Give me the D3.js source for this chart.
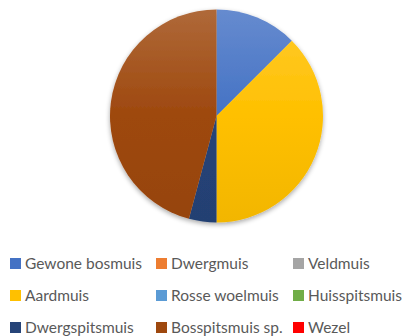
<!DOCTYPE html>
<html>
<head>
<meta charset="utf-8">
<script src="https://cdn.jsdelivr.net/npm/d3@7"></script>
<style>
  html, body { margin: 0; padding: 0; background: #fff; }
  svg { display: block; }
</style>
</head>
<body>
<svg id="chart" width="406" height="336"></svg>
<script>
// Soorten en aantallen
const categories = ["Gewone bosmuis", "Dwergmuis", "Veldmuis", "Aardmuis", "Rosse woelmuis",
                    "Huisspitsmuis", "Dwergspitsmuis", "Bosspitsmuis sp.", "Wezel"];
const counts = [3, 0, 0, 9, 0, 0, 1, 11, 0];
const colors = ["#4472C4", "#ED7D31", "#A5A5A5", "#FFC000", "#5B9BD5",
                "#70AD47", "#264478", "#9E480E", "#FF0000"];

const cx = 216.5, cy = 116, R = 106.5;

const svg = d3.select("#chart");
const defs = svg.append("defs");

// Soft drop shadow beneath the pie
const shadow = defs.append("filter").attr("id", "shadow")
  .attr("x", "-20%").attr("y", "-20%").attr("width", "140%").attr("height", "140%");
shadow.append("feGaussianBlur").attr("in", "SourceAlpha").attr("stdDeviation", 2.5);
shadow.append("feOffset").attr("dx", 0).attr("dy", 1.5).attr("result", "b");
shadow.append("feComponentTransfer").append("feFuncA").attr("type", "linear").attr("slope", 0.35);
const merge = shadow.append("feMerge");
merge.append("feMergeNode");
merge.append("feMergeNode").attr("in", "SourceGraphic");

// Vertical gradient per colour (in the pie group's coordinates):
// lighter at the top, full colour towards the bottom
colors.forEach((c, i) => {
  const g = defs.append("linearGradient").attr("id", "grad" + i)
    .attr("gradientUnits", "userSpaceOnUse")
    .attr("x1", 0).attr("y1", -R).attr("x2", 0).attr("y2", R);
  const base = d3.color(c);
  g.append("stop").attr("offset", "0%").attr("stop-color", d3.interpolateRgb(c, "#fff")(0.18));
  g.append("stop").attr("offset", "50%").attr("stop-color", base.formatHex());
  g.append("stop").attr("offset", "100%").attr("stop-color", base.darker(0.15).formatHex());
});

const data = categories.map((name, i) => ({ name, value: counts[i], color: colors[i], i }));

const pie = d3.pie().sort(null).value(d => d.value);
const arc = d3.arc().innerRadius(0).outerRadius(R);

const pieG = svg.append("g").attr("transform", `translate(${cx},${cy})`)
  .attr("filter", "url(#shadow)");

pieG.selectAll("path")
  .data(pie(data).filter(d => d.data.value > 0))
  .join("path")
  .attr("d", arc)
  .attr("fill", d => `url(#grad${d.data.i})`);

// Legend: three columns, three rows
const colX = [10, 156, 293];
const rowY = [263.5, 295.5, 327.5];
const legend = svg.append("g");
data.forEach((d, k) => {
  const col = k % 3, row = Math.floor(k / 3);
  const g = legend.append("g").attr("transform", `translate(${colX[col]},${rowY[row]})`);
  g.append("rect").attr("x", 0).attr("y", -5.5).attr("width", 11).attr("height", 11)
    .attr("fill", d.color);
  g.append("text").attr("x", 15).attr("y", 0).attr("dy", "0.36em")
    .attr("font-family", "Lato, 'Open Sans', sans-serif").attr("font-size", 15.5)
    .attr("fill", "#595959").text(d.name);
});
</script>
</body>
</html>
